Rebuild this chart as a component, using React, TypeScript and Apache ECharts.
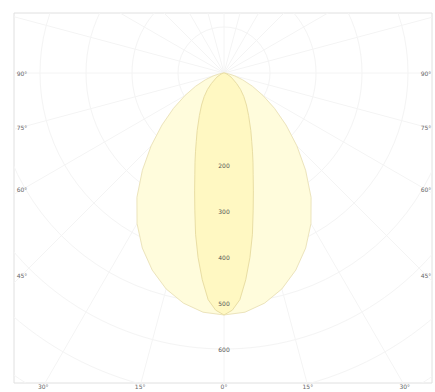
import React, { useEffect, useRef } from "react";
import * as echarts from "echarts";

// Luminous intensity (cd) versus angle from nadir (deg), symmetric curves
const WIDE_ANGLES = [0, 5, 10, 15, 20, 25, 30, 35, 40, 45, 50, 55, 60, 65, 70, 75, 80, 85, 90];
const WIDE_VALUES = [526, 522, 508, 486, 456, 420, 378, 330, 276, 224, 176, 134, 98, 68, 43, 24, 10, 3, 0];
const NARROW_ANGLES = [0, 2, 4, 6, 8, 10, 12, 14, 16, 18, 20, 22, 25, 30, 35, 40, 45, 50, 60, 70, 80, 90];
const NARROW_VALUES = [526, 516, 494, 452, 405, 356, 305, 264, 230, 204, 181, 161, 138, 107, 85, 67, 51, 36, 18, 7, 2, 0];

// Polar grid
const RING_VALUES = [100, 200, 300, 400, 500, 600, 700, 800, 900];
const RING_LABELS = ["200", "300", "400", "500", "600"];
const RING_LABEL_VALUES = [200, 300, 400, 500, 600];
const RAY_ANGLES = [0, 15, 30, 45, 60, 75, 90, 105, 120, 135, 150, 165, 180, 195, 210, 225, 240, 255, 270, 285, 300, 315, 330, 345];
const ANGLE_LABEL_ANGLES = [-90, -75, -60, -45, -30, -15, 0, 15, 30, 45, 60, 75, 90];
const ANGLE_LABELS = ["90°", "75°", "60°", "45°", "30°", "15°", "0°", "15°", "30°", "45°", "60°", "75°", "90°"];

// layout (pixels)
const W = 435, H = 392;
const FRAME = { left: 14, top: 13, right: 432, bottom: 383 };
const CENTER = { x: 224, y: 73 };
const PX_PER_UNIT = 0.46;

const toXY = (angDeg: number, r: number) => {
  const t = (angDeg * Math.PI) / 180;
  return [r * Math.sin(t), r * Math.cos(t)];
};

const lobePoints = (angles: number[], values: number[]) => {
  const pts: number[][] = [];
  for (let i = angles.length - 1; i >= 0; i--) pts.push(toXY(-angles[i], values[i]));
  for (let i = 1; i < angles.length; i++) pts.push(toXY(angles[i], values[i]));
  return pts;
};

export default function App() {
  const ref = useRef<HTMLDivElement>(null);
  useEffect(() => {
    if (!ref.current) return;
    const chart = echarts.init(ref.current, null, { renderer: "svg" });
    const xMin = (FRAME.left - CENTER.x) / PX_PER_UNIT;
    const xMax = (FRAME.right - CENTER.x) / PX_PER_UNIT;
    const yMin = (FRAME.top - CENTER.y) / PX_PER_UNIT;
    const yMax = (FRAME.bottom - CENTER.y) / PX_PER_UNIT;
    const wide = lobePoints(WIDE_ANGLES, WIDE_VALUES);
    const narrow = lobePoints(NARROW_ANGLES, NARROW_VALUES);

    chart.setOption({
      animation: false,
      backgroundColor: "#ffffff",
      grid: {
        left: FRAME.left,
        top: FRAME.top,
        width: FRAME.right - FRAME.left,
        height: FRAME.bottom - FRAME.top,
        show: true,
        borderColor: "#e0e0e0",
        borderWidth: 1,
        backgroundColor: "#ffffff",
      },
      xAxis: { type: "value", min: xMin, max: xMax, show: false },
      yAxis: { type: "value", min: yMin, max: yMax, inverse: true, show: false },
      series: [
        {
          type: "custom",
          clip: true,
          silent: true,
          data: [[0, 0]],
          renderItem: (params: any, api: any) => {
            const c = api.coord([0, 0]);
            const children: any[] = [];
            RING_VALUES.forEach((v) => {
              const r = Math.abs(api.coord([v, 0])[0] - c[0]);
              children.push({
                type: "circle",
                shape: { cx: c[0], cy: c[1], r },
                style: { fill: "none", stroke: "#f4f4f4", lineWidth: 1 },
              });
            });
            RAY_ANGLES.forEach((a) => {
              const p = api.coord(toXY(a, 1000));
              children.push({
                type: "line",
                shape: { x1: c[0], y1: c[1], x2: p[0], y2: p[1] },
                style: { stroke: "#f4f4f4", lineWidth: 1 },
              });
            });
            return { type: "group", children };
          },
        },
        {
          type: "custom",
          clip: true,
          silent: true,
          data: [[0, 0]],
          renderItem: (params: any, api: any) => ({
            type: "group",
            children: [
              {
                type: "polygon",
                shape: { points: wide.map((p) => api.coord(p)) },
                style: { fill: "#fffcdc", stroke: "#ece4bc", lineWidth: 1, lineJoin: "round" },
              },
              {
                type: "polygon",
                shape: { points: narrow.map((p) => api.coord(p)) },
                style: { fill: "#fff8c2", stroke: "#e9dea4", lineWidth: 1, lineJoin: "round" },
              },
            ],
          }),
        },
        {
          type: "custom",
          clip: false,
          silent: true,
          data: [[0, 0]],
          renderItem: (params: any, api: any) => {
            const c = api.coord([0, 0]);
            const children: any[] = [];
            RING_LABEL_VALUES.forEach((v, i) => {
              const p = api.coord([0, v]);
              children.push({
                type: "text",
                x: p[0],
                y: p[1],
                style: {
                  text: RING_LABELS[i],
                  fontSize: 6,
                  fill: "#555",
                  align: "center",
                  verticalAlign: "middle",
                  fontFamily: "DejaVu Sans",
                },
              });
            });
            const cs = params.coordSys;
            const lx = cs.x + 8, rx = cs.x + cs.width - 6, by = cs.y + cs.height + 3;
            ANGLE_LABEL_ANGLES.forEach((a, i) => {
              const t = (a * Math.PI) / 180;
              const dx = Math.sin(t), dy = Math.cos(t);
              let best = Infinity;
              if (dx < -1e-6) best = Math.min(best, (lx - c[0]) / dx);
              if (dx > 1e-6) best = Math.min(best, (rx - c[0]) / dx);
              if (dy > 1e-6) best = Math.min(best, (by - c[1]) / dy);
              children.push({
                type: "text",
                x: c[0] + dx * best,
                y: c[1] + dy * best,
                style: {
                  text: ANGLE_LABELS[i],
                  fontSize: 6,
                  fill: "#666",
                  align: "center",
                  verticalAlign: "middle",
                  fontFamily: "DejaVu Sans",
                },
              });
            });
            return { type: "group", children };
          },
        },
      ],
    });
    return () => chart.dispose();
  }, []);
  return (
    <div
      ref={ref}
      style={{ position: "absolute", left: 0, top: 0, width: W, height: H }}
    />
  );
}
